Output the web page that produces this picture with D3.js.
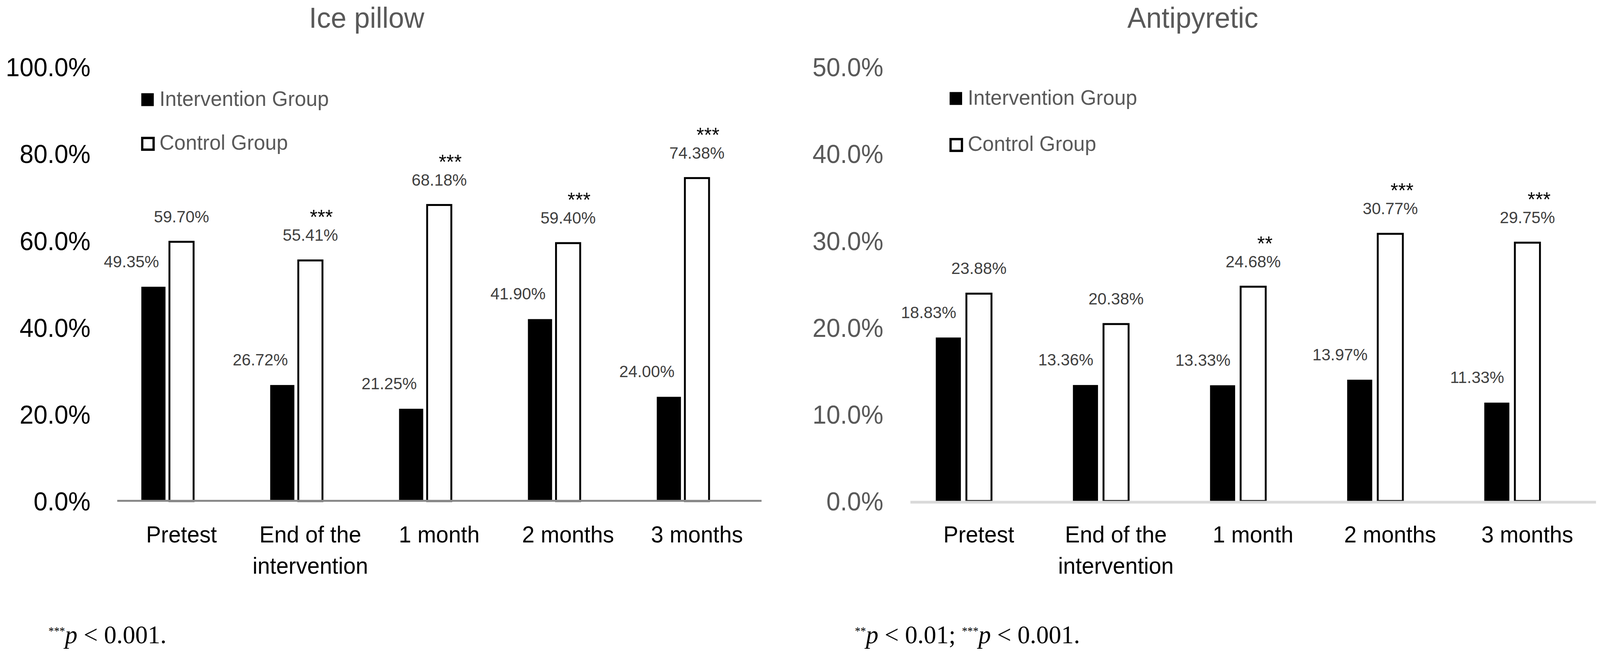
<!DOCTYPE html>
<html lang="en">
<head>
<meta charset="UTF-8">
<title>Ice pillow / Antipyretic</title>
<script src="https://d3js.org/d3.v7.min.js"></script>
<style>
  html, body { margin: 0; padding: 0; background: #fff; overflow: hidden; }
  svg { display: block; width: 100vw; height: 100vh; font-family: "Liberation Sans", Arial, sans-serif; }
  .note { font-family: "Liberation Serif", "Times New Roman", serif; fill: #000; }
</style>
</head>
<body>
<svg id="chart" viewBox="0 0 4224 1676" preserveAspectRatio="none"></svg>
<script>
// Data
const categories = ["Pretest", "End of the intervention", "1 month", "2 months", "3 months"];
const groups = ["Intervention Group", "Control Group"];

const iceIntervention = [49.35, 26.72, 21.25, 41.90, 24.00];
const iceControl = [59.70, 55.41, 68.18, 59.40, 74.38];
const iceStars = ["", "***", "***", "***", "***"];
const iceTicks = [0, 20, 40, 60, 80, 100];

const antiIntervention = [18.83, 13.36, 13.33, 13.97, 11.33];
const antiControl = [23.88, 20.38, 24.68, 30.77, 29.75];
const antiStars = ["", "", "**", "***", "***"];
const antiTicks = [0, 10, 20, 30, 40, 50];

const iceNote = [["***", "sup"], ["p", "it"], [" < 0.001.", ""]];
const antiNote = [["**", "sup"], ["p", "it"], [" < 0.01; ", ""], ["***", "sup"], ["p", "it"], [" < 0.001.", ""]];

// layout per panel
const panels = [
  { title: "Ice pillow", titleX: 968, inter: iceIntervention, ctrl: iceControl, stars: iceStars,
    ticks: iceTicks, x0: 309, x1: 2010, tickX: 239, tickColor: "#000",
    axisY: 1281, axisColor: "#898989", axisW: 5,
    pairShift: -37, pairW: 138, pad: 0.14, interShift: -58, starShift: 29,
    legendX: 373, legendY: [255, 367], note: iceNote, noteX: 128 },
  { title: "Antipyretic", titleX: 3149, inter: antiIntervention, ctrl: antiControl, stars: antiStars,
    ticks: antiTicks, x0: 2403, x1: 4213, tickX: 2332, tickColor: "#595959",
    axisY: 1284.5, axisColor: "#d9d9d9", axisW: 7,
    pairShift: -40, pairW: 147, pad: 0.18, interShift: -52, starShift: 31,
    legendX: 2507, legendY: [252, 370], note: antiNote, noteX: 2257 }
];

const svg = d3.select("#chart");
const yBottom = 1282, yTop = 171;
const pct = d3.format(".2f");

function wrap(text, width, lineHeight) {
  text.each(function () {
    const t = d3.select(this);
    const words = t.text().split(/\s+/);
    t.text(null);
    let line = [];
    let tspan = t.append("tspan").attr("x", 0).attr("dy", 0);
    words.forEach(w => {
      line.push(w);
      tspan.text(line.join(" "));
      if (tspan.node().getComputedTextLength() > width && line.length > 1) {
        line.pop();
        tspan.text(line.join(" "));
        line = [w];
        tspan = t.append("tspan").attr("x", 0).attr("dy", lineHeight).text(w);
      }
    });
  });
}

panels.forEach(p => {
  const g = svg.append("g");
  const max = d3.max(p.ticks) / 100;

  const x = d3.scaleBand().domain(categories).range([p.x0, p.x1]);
  const xg = d3.scaleBand().domain(groups)
      .range([-p.pairW / 2, p.pairW / 2]).paddingInner(p.pad);
  const y = d3.scaleLinear().domain([0, max]).range([yBottom, yTop]);

  const cx = c => x(c) + x.bandwidth() / 2 + p.pairShift;
  const interX = i => cx(categories[i]) + xg(groups[0]);
  const ctrlX = i => cx(categories[i]) + xg(groups[1]);
  const bw = xg.bandwidth();

  // title
  g.append("text")
      .attr("x", p.titleX).attr("y", 71)
      .attr("text-anchor", "middle")
      .attr("font-size", 74).attr("fill", "#595959")
      .text(p.title);

  // y axis labels
  const yAxis = g.append("g")
      .attr("transform", `translate(${p.tickX},0)`)
      .call(d3.axisLeft(y).tickValues(p.ticks.map(v => v / 100))
          .tickFormat(d3.format(".1%")).tickSize(0).tickPadding(0));
  yAxis.select(".domain").remove();
  yAxis.attr("font-family", null).attr("font-size", 66);
  yAxis.selectAll("text").attr("fill", p.tickColor).attr("dy", "0.36em");

  // bars
  g.selectAll(".inter").data(p.inter).join("rect")
      .attr("x", (d, i) => interX(i))
      .attr("y", d => y(d / 100))
      .attr("width", bw)
      .attr("height", d => yBottom - y(d / 100))
      .attr("fill", "#000");

  g.selectAll(".ctrl").data(p.ctrl).join("rect")
      .attr("x", (d, i) => ctrlX(i))
      .attr("y", d => y(d / 100))
      .attr("width", bw)
      .attr("height", d => yBottom - y(d / 100))
      .attr("fill", "#fff")
      .attr("stroke", "#000")
      .attr("stroke-width", 5);

  // x axis (domain line drawn over bar bottoms)
  const xAxis = g.append("g")
      .attr("transform", `translate(0,${p.axisY})`)
      .call(d3.axisBottom(x).tickSize(0).tickSizeOuter(0));
  xAxis.select(".domain").attr("stroke", p.axisColor).attr("stroke-width", p.axisW);
  xAxis.attr("font-family", null).attr("font-size", 59);
  xAxis.selectAll("text")
      .attr("fill", "#000")
      .attr("y", 1388 - p.axisY)
      .attr("dy", null)
      .call(wrap, x.bandwidth() * 0.95, 80);

  // data labels
  g.selectAll(".lab-i").data(p.inter).join("text")
      .attr("x", (d, i) => interX(i) + bw / 2 + p.interShift)
      .attr("y", d => y(d / 100) - 50)
      .attr("text-anchor", "middle")
      .attr("font-size", 43).attr("fill", "#404040")
      .text(d => pct(d) + "%");

  g.selectAll(".lab-c").data(p.ctrl).join("text")
      .attr("x", (d, i) => ctrlX(i) + bw / 2)
      .attr("y", d => y(d / 100) - 50)
      .attr("text-anchor", "middle")
      .attr("font-size", 43).attr("fill", "#404040")
      .text(d => pct(d) + "%");

  g.selectAll(".star").data(p.ctrl).join("text")
      .attr("x", (d, i) => ctrlX(i) + bw / 2 + p.starShift)
      .attr("y", d => y(d / 100) - 93)
      .attr("text-anchor", "middle")
      .attr("font-size", 52).attr("fill", "#000")
      .text((d, i) => p.stars[i]);

  // legend
  const leg = g.selectAll(".leg").data(groups).join("g")
      .attr("transform", (d, i) => `translate(${p.legendX},${p.legendY[i]})`);
  leg.append("rect")
      .attr("x", (d, i) => i ? 2.5 : 0)
      .attr("y", (d, i) => i ? -14 : -16.5)
      .attr("width", (d, i) => i ? 30 : 33)
      .attr("height", (d, i) => i ? 30 : 33)
      .attr("fill", (d, i) => i ? "#fff" : "#000")
      .attr("stroke", (d, i) => i ? "#000" : "none")
      .attr("stroke-width", 6);
  leg.append("text")
      .attr("x", 48).attr("y", 16)
      .attr("font-size", 54).attr("fill", "#595959")
      .text(d => d);

  // footnote
  const note = svg.append("text")
      .attr("class", "note")
      .attr("x", p.noteX).attr("y", 1646)
      .attr("font-size", 66);
  let raised = false;
  p.note.forEach(([txt, kind]) => {
    const ts = note.append("tspan").text(txt);
    if (kind === "sup") {
      ts.attr("font-size", 29).attr("dy", raised ? 0 : -22);
      raised = true;
    } else {
      if (raised) ts.attr("dy", 22);
      raised = false;
      if (kind === "it") ts.attr("font-style", "italic");
    }
  });
});
</script>
</body>
</html>
